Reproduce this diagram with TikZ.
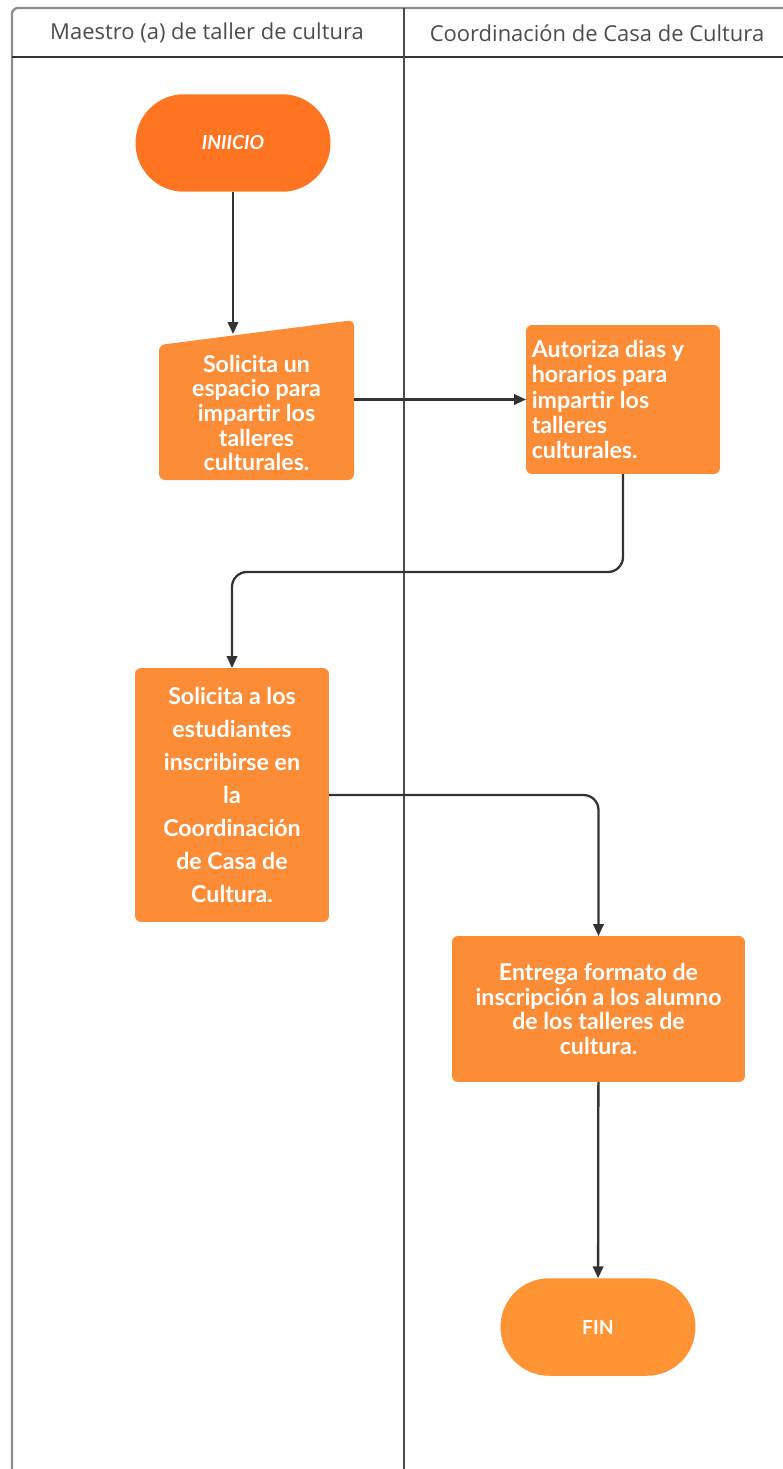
\documentclass[tikz,border=0pt]{standalone}
\usepackage{fontspec}
\setmainfont{Lato}
\newfontfamily\cabecera{Open Sans}
\usetikzlibrary{arrows.meta}

\definecolor{naranjaA}{HTML}{FF7420}
\definecolor{naranjaB}{HTML}{FD8C37}
\definecolor{naranjaC}{HTML}{FE9434}
\definecolor{linea}{HTML}{333333}

\tikzset{
	caja/.style={fill=naranjaB, rounded corners=0.12cm, text=white, font=\fontsize{13.2}{14}\selectfont\bfseries, align=center, outer sep=0pt, inner sep=2pt},
	terminal/.style={rounded corners=0.97cm, text=white, minimum width=3.9cm, minimum height=1.95cm, outer sep=0pt},
	flecha/.style={draw=linea, line width=1.3pt, -{Triangle[length=2.4mm,width=2.1mm]}},
	carril/.style={line width=1.3pt},
	titulo/.style={text=black!70, font=\cabecera\fontsize{12.5}{14}\selectfont}
}

\begin{document}
\begin{tikzpicture}[x=0.02cm, y=-0.02cm]
	    \useasboundingbox (0,0) rectangle (783,1469);
	    % carriles
	    \draw[carril, black!45, rounded corners=0.12cm] (12,1469) -- (12,8) -- (783,8);
	    \draw[carril, black!80] (12,57) -- (783,57);
	    \draw[line width=1.6pt, black!70] (404,8) -- (404,1469);
		\node[titulo] (tit1) at (207,33) {Maestro (a) de taller de cultura};
		\node[titulo] (tit2) at (597,33) {Coordinación de Casa de Cultura};

		% nodos
		\node[terminal, fill=naranjaA, font=\fontsize{11}{12}\selectfont\bfseries\itshape] (inicio) at (233,143) {INIICIO};
		\fill[naranjaB, rounded corners=0.12cm] (159,345) -- (354,320) -- (354,480) -- (159,480) -- cycle;
		\node[caja, fill=none, minimum width=3.9cm] (sol1) at (256.5,413) {Solicita un\\espacio para\\impartir los\\talleres\\culturales.};
		\node[caja, minimum width=3.88cm, minimum height=2.98cm, align=flush left, text width=3.65cm, font=\fontsize{13.2}{14.5}\selectfont\bfseries] (aut) at (623,399.5) {Autoriza dias y\\horarios para\\impartir los\\talleres\\culturales.};
		\node[caja, minimum width=3.88cm, minimum height=5.08cm, font=\fontsize{13.2}{18.7}\selectfont\bfseries] (sol2) at (232,795) {Solicita a los\\estudiantes\\inscribirse en\\la\\Coordinación\\de Casa de\\Cultura.};
		\node[caja, minimum width=5.86cm, minimum height=2.92cm] (ent) at (598.5,1009) {Entrega formato de\\inscripción a los alumno\\de los talleres de\\cultura.};
		\node[terminal, fill=naranjaC, font=\fontsize{11}{12}\selectfont\bfseries] (fin) at (598,1327) {FIN};
		\coordinate (sol1top) at (233,334);

		% conectores
		\draw[flecha] (inicio) -- (sol1top);
		\draw[flecha] (sol1.east |- aut.west) -- (aut.west);
		\draw[flecha, rounded corners=0.3cm] (aut.south) -- ++(0,98) -| (sol2.north);
		\draw[flecha, rounded corners=0.3cm] (sol2.east) -| (ent.north);
		\draw[flecha] (ent) -- (fin);
	\end{tikzpicture}
\end{document}
